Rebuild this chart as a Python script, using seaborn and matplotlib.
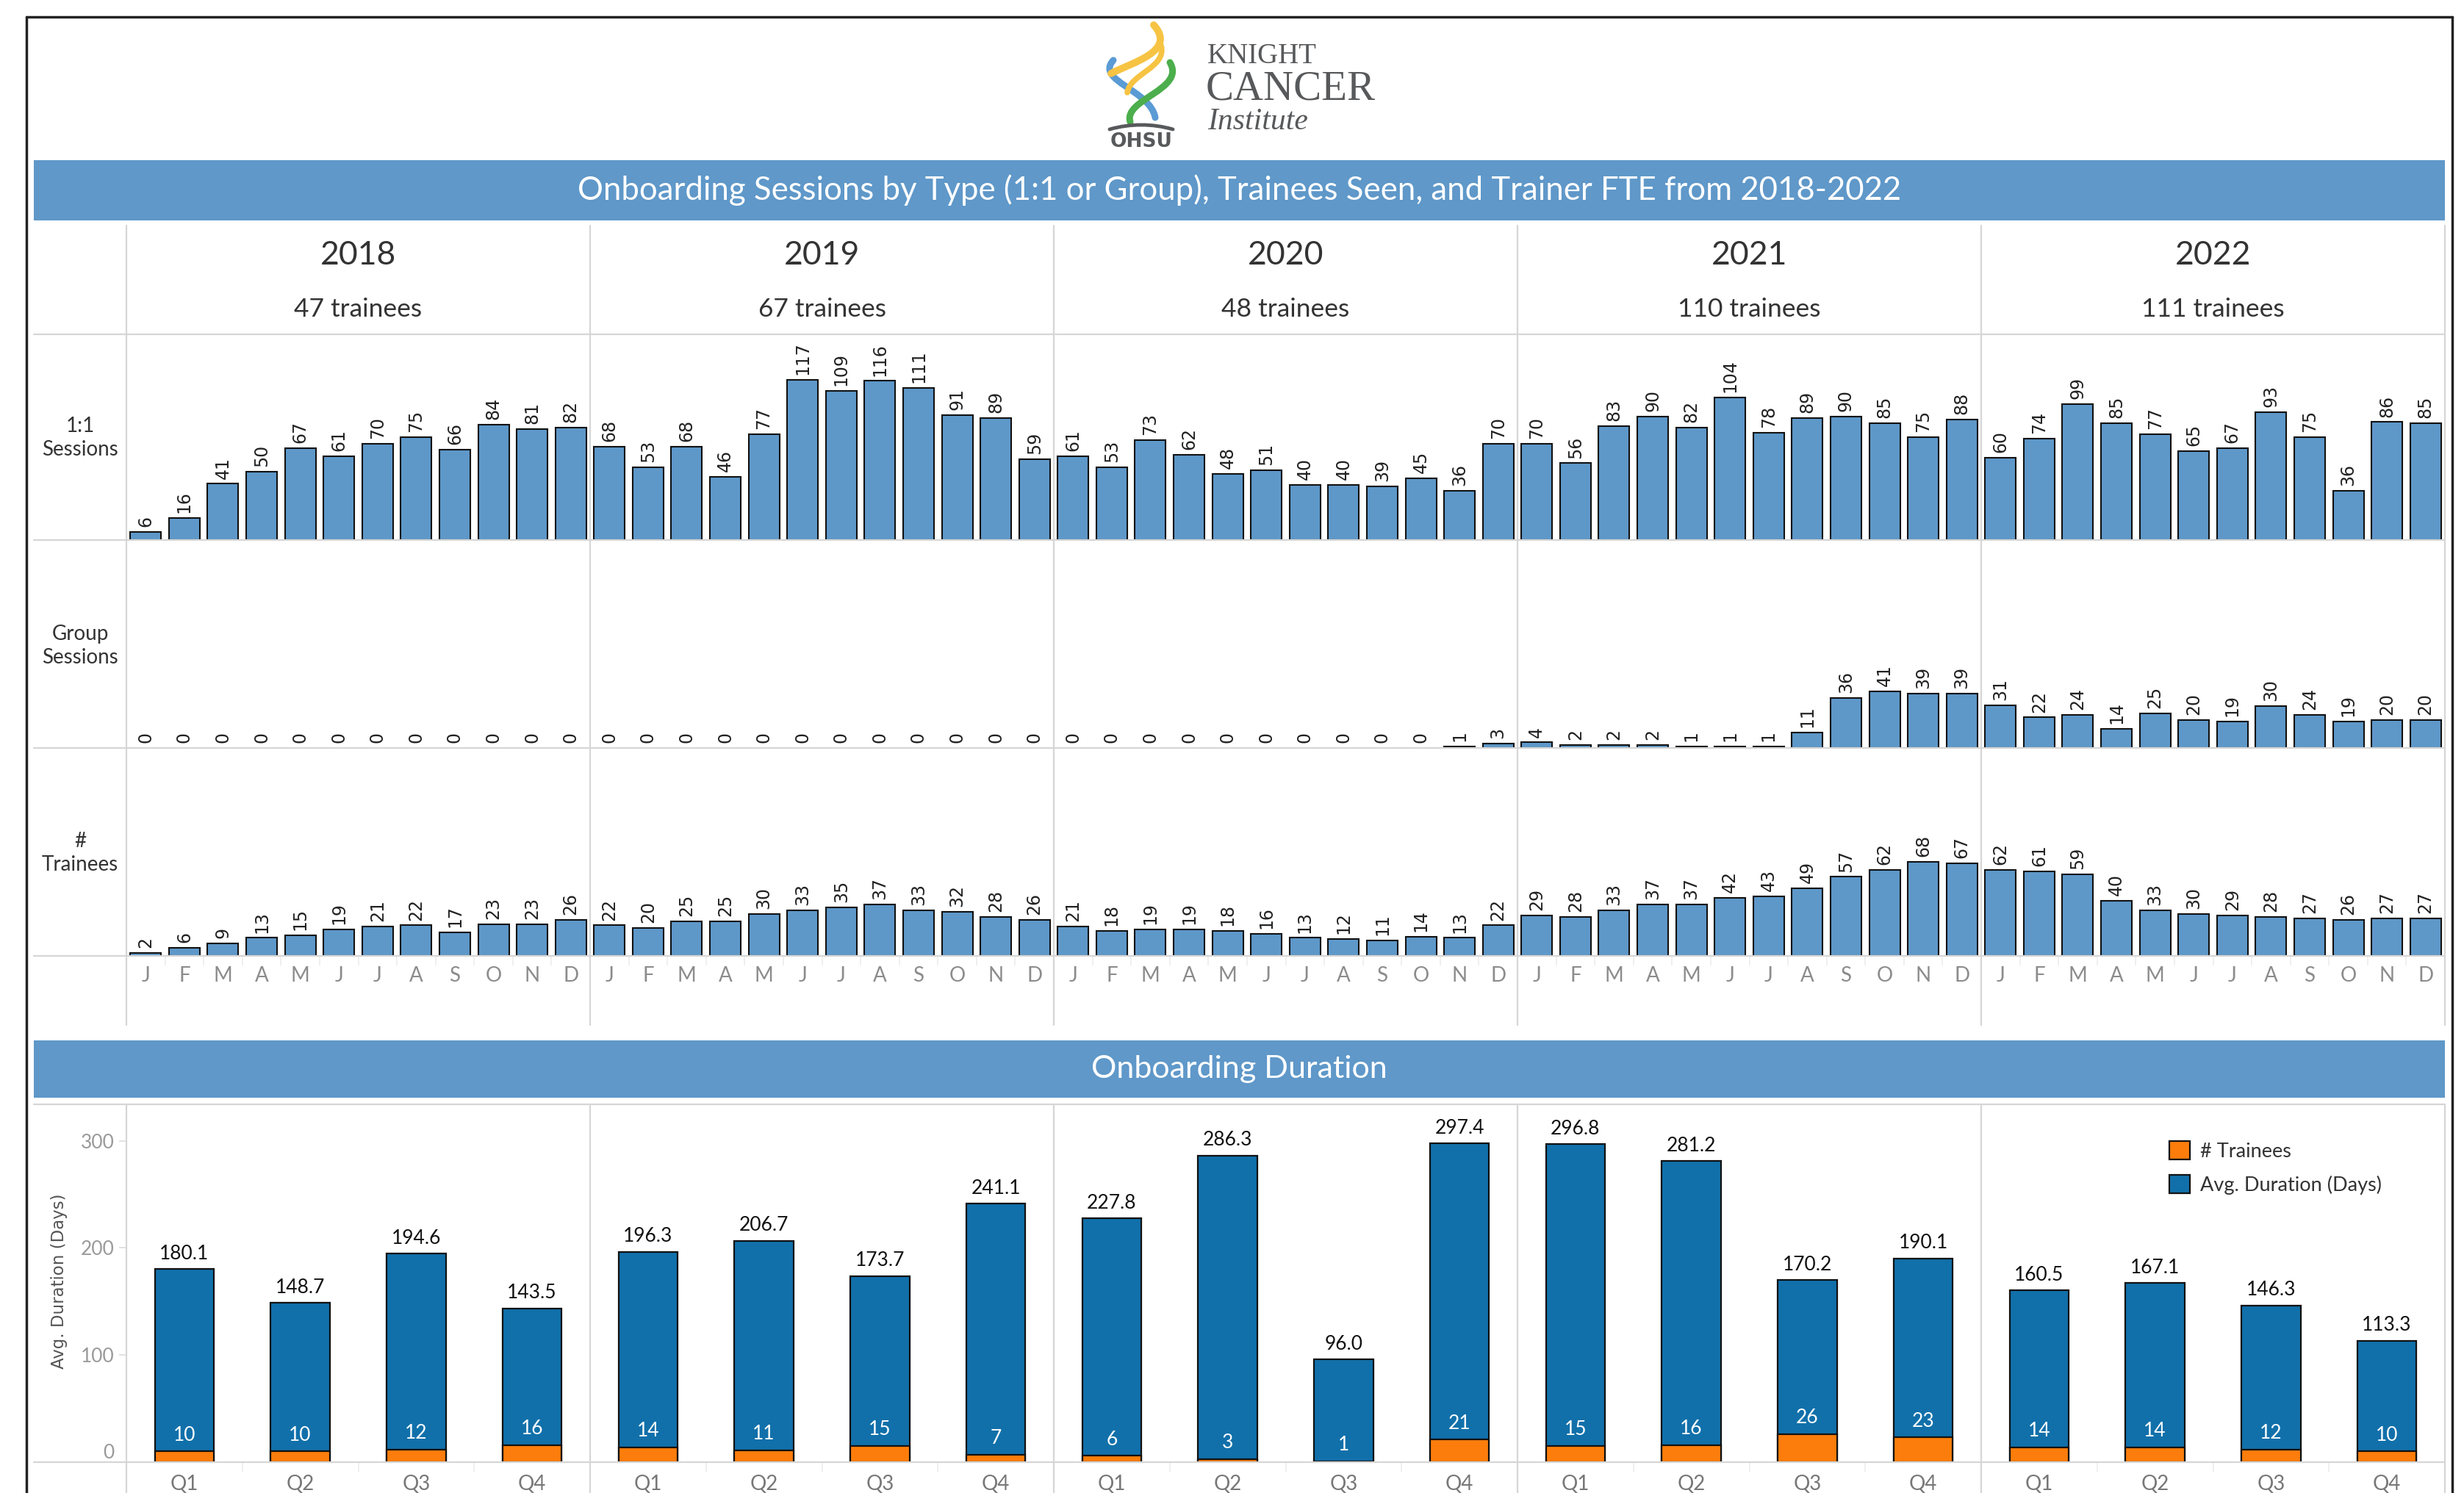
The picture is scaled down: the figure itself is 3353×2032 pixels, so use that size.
import numpy as np
import pandas as pd
import matplotlib
matplotlib.use("Agg")
import matplotlib.pyplot as plt
import seaborn as sns
from matplotlib.patches import Rectangle, PathPatch
from matplotlib.path import Path
from matplotlib.lines import Line2D

# ---------------- data ----------------
years = ["2018", "2019", "2020", "2021", "2022"]
year_trainees = [47, 67, 48, 110, 111]
month_letters = ["J", "F", "M", "A", "M", "J", "J", "A", "S", "O", "N", "D"]
quarter_labels = ["Q1", "Q2", "Q3", "Q4"]

one_on_one_2018 = [6, 16, 41, 50, 67, 61, 70, 75, 66, 84, 81, 82]
one_on_one_2019 = [68, 53, 68, 46, 77, 117, 109, 116, 111, 91, 89, 59]
one_on_one_2020 = [61, 53, 73, 62, 48, 51, 40, 40, 39, 45, 36, 70]
one_on_one_2021 = [70, 56, 83, 90, 82, 104, 78, 89, 90, 85, 75, 88]
one_on_one_2022 = [60, 74, 99, 85, 77, 65, 67, 93, 75, 36, 86, 85]

group_2018 = [0, 0, 0, 0, 0, 0, 0, 0, 0, 0, 0, 0]
group_2019 = [0, 0, 0, 0, 0, 0, 0, 0, 0, 0, 0, 0]
group_2020 = [0, 0, 0, 0, 0, 0, 0, 0, 0, 0, 1, 3]
group_2021 = [4, 2, 2, 2, 1, 1, 1, 11, 36, 41, 39, 39]
group_2022 = [31, 22, 24, 14, 25, 20, 19, 30, 24, 19, 20, 20]

trainees_2018 = [2, 6, 9, 13, 15, 19, 21, 22, 17, 23, 23, 26]
trainees_2019 = [22, 20, 25, 25, 30, 33, 35, 37, 33, 32, 28, 26]
trainees_2020 = [21, 18, 19, 19, 18, 16, 13, 12, 11, 14, 13, 22]
trainees_2021 = [29, 28, 33, 37, 37, 42, 43, 49, 57, 62, 68, 67]
trainees_2022 = [62, 61, 59, 40, 33, 30, 29, 28, 27, 26, 27, 27]

duration_2018 = [180.1, 148.7, 194.6, 143.5]
duration_2019 = [196.3, 206.7, 173.7, 241.1]
duration_2020 = [227.8, 286.3, 96.0, 297.4]
duration_2021 = [296.8, 281.2, 170.2, 190.1]
duration_2022 = [160.5, 167.1, 146.3, 113.3]

q_trainees_2018 = [10, 10, 12, 16]
q_trainees_2019 = [14, 11, 15, 7]
q_trainees_2020 = [6, 3, 1, 21]
q_trainees_2021 = [15, 16, 26, 23]
q_trainees_2022 = [14, 14, 12, 10]

monthly = pd.DataFrame({
    "idx": list(range(60)),
    "one_on_one": one_on_one_2018 + one_on_one_2019 + one_on_one_2020 + one_on_one_2021 + one_on_one_2022,
    "group": group_2018 + group_2019 + group_2020 + group_2021 + group_2022,
    "trainees": trainees_2018 + trainees_2019 + trainees_2020 + trainees_2021 + trainees_2022,
})
quarterly = pd.DataFrame({
    "q": list(range(20)),
    "duration": duration_2018 + duration_2019 + duration_2020 + duration_2021 + duration_2022,
    "trainees": q_trainees_2018 + q_trainees_2019 + q_trainees_2020 + q_trainees_2021 + q_trainees_2022,
})

# ---------------- style ----------------
sns.set_style("white")
plt.rcParams["font.family"] = ["Lato", "DejaVu Sans"]

W, H = 3353, 2032
BAR = "#5e98c9"
BANNER = "#5f98c9"
DARK = "#1170aa"
ORANGE = "#fc7d0b"
EDGE = "#111111"
GRID = "#d6d6d6"
TXT = "#333333"


def fx(px):
    return px / W


def fy(py):
    return 1 - py / H


def rect(x0, y0, x1, y1):
    return [fx(x0), fy(y1), (x1 - x0) / W, (y1 - y0) / H]


fig = plt.figure(figsize=(W / 100, H / 100), dpi=100)
fig.patch.set_facecolor("white")


def fline(xs, ys, color=GRID, lw=1.6, z=3):
    fig.add_artist(Line2D([fx(x) for x in xs], [fy(y) for y in ys],
                          transform=fig.transFigure, color=color, lw=lw, zorder=z))


X0, X1 = 172, 3327
slot = (X1 - X0) / 60.0
dividers = [X0 + 12 * k * slot for k in range(5)]

# ---------------- banners ----------------
for (y0, y1, title, fs) in [(218, 300, "Onboarding Sessions by Type (1:1 or Group), Trainees Seen, and Trainer FTE from 2018-2022", 31.5),
                            (1416, 1494, "Onboarding Duration", 31)]:
    fig.add_artist(Rectangle((fx(46), fy(y1)), (X1 - 46) / W, (y1 - y0) / H,
                             transform=fig.transFigure, facecolor=BANNER, edgecolor="none"))
    fig.text(fx((46 + X1) / 2), fy((y0 + y1) / 2), title, color="white", fontsize=fs,
             ha="center", va="center")

# ---------------- header ----------------
for k, (yr, n) in enumerate(zip(years, year_trainees)):
    cx = X0 + (12 * k + 6) * slot
    fig.text(fx(cx), fy(348), yr, fontsize=32, color=TXT, ha="center", va="center")
    fig.text(fx(cx), fy(421), f"{n} trainees", fontsize=25.5, color=TXT, ha="center", va="center")

# row labels
for label, yc in [("1:1\nSessions", 596), ("Group\nSessions", 879), ("#\nTrainees", 1161)]:
    fig.text(fx(109), fy(yc), label, fontsize=20, color=TXT, ha="center", va="center",
             multialignment="center", linespacing=1.25)

# ---------------- monthly panels ----------------
rows = [("one_on_one", 455, 735), ("group", 735, 1018), ("trainees", 1018, 1301)]
axes_top = []
for col, y0, y1 in rows:
    ax = fig.add_axes(rect(X0, y0, X1, y1))
    sns.barplot(data=monthly, x="idx", y=col, color=BAR, saturation=1, width=0.8,
                edgecolor=EDGE, linewidth=1.5, errorbar=None, ax=ax)
    for p in ax.patches:
        if p.get_height() == 0:
            p.set_edgecolor("none")
    ax.bar_label(ax.containers[0], labels=[str(v) for v in monthly[col]], rotation=90,
                 padding=5, fontsize=17, family="DejaVu Sans", color="#222222")
    ax.set_xlim(-0.5, 59.5)
    ax.set_ylim(0, 150)
    ax.set_yticks([])
    ax.set_xlabel("")
    ax.set_ylabel("")
    for s in ax.spines.values():
        s.set_visible(False)
    ax.patch.set_alpha(0)
    axes_top.append(ax)

for ax in axes_top[:2]:
    ax.set_xticks([])
ax3 = axes_top[2]
ax3.set_xticks(range(60))
ax3.set_xticklabels(month_letters * 5, fontsize=20, color="#8c8c8c")
ax3.set_xticks(np.arange(-0.5, 60, 1), minor=True)
ax3.tick_params(axis="x", which="major", length=0, pad=10)
ax3.tick_params(axis="x", which="minor", length=9, color="#ececec", width=1.2, bottom=True)

# grid lines for top panel
for y in [455, 735, 1018, 1301]:
    fline([46, X1], [y, y])
for x in dividers:
    fline([x, x], [307, 1395])

# ---------------- duration panel ----------------
axb = fig.add_axes(rect(X0, 1503, X1, 1990))
sns.barplot(data=quarterly, x="q", y="duration", color=DARK, saturation=1, width=0.51,
            edgecolor=EDGE, linewidth=1.6, errorbar=None, ax=axb)
sns.barplot(data=quarterly, x="q", y="trainees", color=ORANGE, saturation=1, width=0.51,
            edgecolor=EDGE, linewidth=1.6, errorbar=None, ax=axb)
axb.bar_label(axb.containers[0], labels=[f"{v:.1f}" for v in quarterly["duration"]],
              padding=6, fontsize=19, color="#111111")
for bar, t in zip(axb.containers[1], quarterly["trainees"]):
    axb.annotate(str(t), xy=(bar.get_x() + bar.get_width() / 2, bar.get_height()),
                 xytext=(0, 7), textcoords="offset points", ha="center", va="bottom",
                 color="white", fontsize=19)
axb.set_xlim(-0.5, 19.5)
axb.set_ylim(0, 334)
axb.set_yticks([0, 100, 200, 300])
axb.set_yticklabels(["0", "100", "200", "300"], fontsize=19, color="#9a9a9a")
axb.get_yticklabels()[0].set_va("bottom")
axb.tick_params(axis="y", length=7, color="#dddddd", width=1.2, pad=5, left=True)
axb.set_xticks(range(20))
axb.set_xticklabels(quarter_labels * 5, fontsize=20, color="#777777")
axb.set_xticks(np.arange(-0.5, 20, 1), minor=True)
axb.tick_params(axis="x", which="major", length=0, pad=12)
axb.tick_params(axis="x", which="minor", length=9, color="#ececec", width=1.2, bottom=True)
axb.set_xlabel("")
axb.set_ylabel("")
for s in axb.spines.values():
    s.set_visible(False)
axb.patch.set_alpha(0)
fig.text(fx(80), fy(1744), "Avg. Duration (Days)", rotation=90, fontsize=16.5,
         family="DejaVu Sans", color="#555555", ha="center", va="center")

handles = [Rectangle((0, 0), 1, 1, facecolor=ORANGE, edgecolor=EDGE, lw=1.6),
           Rectangle((0, 0), 1, 1, facecolor=DARK, edgecolor=EDGE, lw=1.6)]
axb.legend(handles, ["# Trainees", "Avg. Duration (Days)"], loc="upper left",
           bbox_to_anchor=(0.881, 0.897), frameon=False, fontsize=19.5, handlelength=1.05,
           handleheight=1.05, handletextpad=0.5, labelspacing=0.7, borderpad=0,
           borderaxespad=0, labelcolor=TXT)

for y in [1503, 1990]:
    fline([46, X1], [y, y])
for x in dividers:
    fline([x, x], [1503, 2032])
fline([X1, X1], [1503, 2032])
fline([X1, X1], [307, 1395])

# ---------------- outer frame ----------------
fline([36, 3337], [23, 23], color="#222222", lw=2.5, z=5)
fline([36, 36], [23, 2032], color="#222222", lw=2.5, z=5)
fline([3337, 3337], [23, 2032], color="#222222", lw=2.5, z=5)

# ---------------- logo ----------------
axl = fig.add_axes(rect(1480, 25, 1625, 240))
axl.set_xlim(1480, 1625)
axl.set_ylim(240, 25)
axl.axis("off")


def bez(pts, color, lw):
    path = Path(pts, [Path.MOVETO, Path.CURVE4, Path.CURVE4, Path.CURVE4])
    axl.add_patch(PathPatch(path, facecolor="none", edgecolor=color, lw=lw, capstyle="round"))


bez([(1515, 82), (1490, 110), (1565, 122), (1572, 160)], "#5b9bd5", 6.5)
bez([(1570, 34), (1602, 70), (1540, 85), (1512, 100)], "#f6c343", 7)
bez([(1580, 62), (1588, 92), (1538, 100), (1534, 126)], "#f6c343", 5.5)
bez([(1592, 85), (1614, 122), (1528, 135), (1538, 166)], "#4cae4c", 6.5)
bez([(1510, 176), (1538, 168), (1568, 168), (1596, 176)], "#58595b", 3.5)
axl.text(1553, 193, "OHSU", fontsize=19, fontweight="bold", family="DejaVu Sans",
         color="#58595b", ha="center", va="center")

fig.text(fx(1643), fy(77), "KNIGHT", fontsize=28, family="Liberation Serif", color="#58595b",
         ha="left", va="center")
fig.text(fx(1641), fy(121), "CANCER", fontsize=41, family="Liberation Serif", color="#58595b",
         ha="left", va="center")
fig.text(fx(1643), fy(166), "Institute", fontsize=30, family="Liberation Serif", style="italic",
         color="#58595b", ha="left", va="center")

fig.savefig("out.png", dpi=100)
